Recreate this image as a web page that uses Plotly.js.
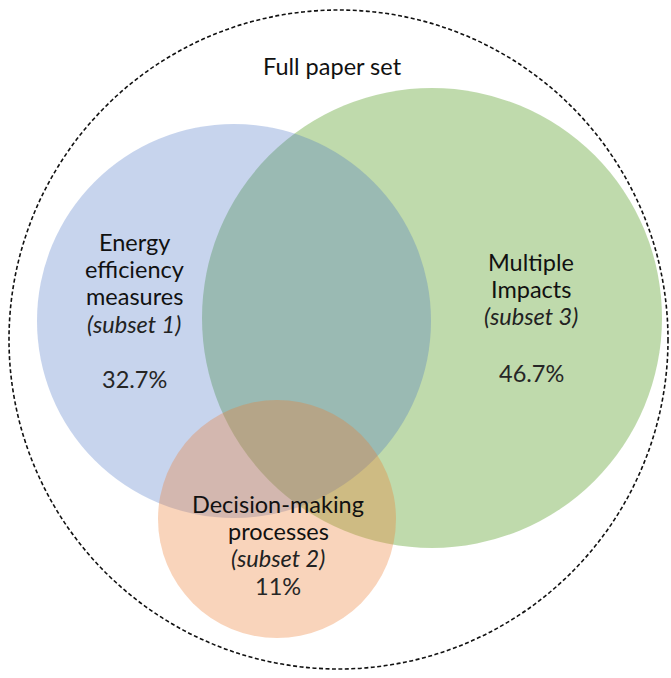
<!DOCTYPE html>
<html>
<head>
<meta charset="utf-8">
<script src="https://cdn.plot.ly/plotly-3.0.1.min.js"></script>
<style>html,body{margin:0;padding:0;background:#fff;}#chart{width:671px;height:678px;}</style>
</head>
<body>
<div id="chart"></div>
<script>
// ---- data ----
const universeLabel = "Full paper set";
const setTitles = [["Energy", "efficiency", "measures"], ["Decision-making", "processes"], ["Multiple", "Impacts"]];
const subsetLabels = ["(subset 1)", "(subset 2)", "(subset 3)"];
const shares = [32.7, 11, 46.7];

// ---- geometry (pixel-like data coordinates) ----
const circleCx = [234, 277, 432];
const circleCy = [321, 519, 318];
const circleR = [197, 119, 230];
const circleFill = ["rgba(68,114,196,0.30)", "rgba(237,125,49,0.33)", "rgba(112,173,71,0.45)"];
const drawOrder = [2, 0, 1];
const labelX = [134, 278, 531];
const labelTopY = [242, 503.5, 262];
const lineGap = 27.2;
const pctY = [379, 586, 373];
const outer = {cx: 338.5, cy: 339.5, r: 329.5};

const fontFam = "Lato, 'Open Sans', sans-serif";
const shapes = [];
drawOrder.forEach(i => {
  shapes.push({type: "circle", xref: "x", yref: "y",
    x0: circleCx[i] - circleR[i], x1: circleCx[i] + circleR[i],
    y0: circleCy[i] - circleR[i], y1: circleCy[i] + circleR[i],
    fillcolor: circleFill[i], line: {width: 0}, layer: "below"});
});
shapes.push({type: "circle", xref: "x", yref: "y",
  x0: outer.cx - outer.r, x1: outer.cx + outer.r, y0: outer.cy - outer.r, y1: outer.cy + outer.r,
  fillcolor: "rgba(0,0,0,0)", line: {color: "#111", width: 1.6, dash: "4px,2.5px"}});

const ann = [];
const mk = (x, y, text, color) => ({x: x, y: y, xref: "x", yref: "y", text: text, showarrow: false,
  xanchor: "center", yanchor: "middle", font: {family: fontFam, size: 23.5, color: color || "#111"}});
ann.push(mk(332, 66, universeLabel));
setTitles.forEach((lines, i) => {
  lines.forEach((t, k) => ann.push(mk(labelX[i], labelTopY[i] + k * lineGap, t)));
  ann.push(mk(labelX[i], labelTopY[i] + lines.length * lineGap, "<i>" + subsetLabels[i] + "</i>", "#222"));
  ann.push(mk(labelX[i], pctY[i], shares[i] + "%", "#262626"));
});

const layout = {
  width: 671, height: 678, margin: {l: 0, r: 0, t: 0, b: 0},
  paper_bgcolor: "#fff", plot_bgcolor: "#fff",
  xaxis: {range: [0, 671], visible: false, fixedrange: true},
  yaxis: {range: [678, 0], visible: false, fixedrange: true},
  shapes: shapes, annotations: ann, showlegend: false
};
Plotly.newPlot("chart", [], layout, {staticPlot: true, displayModeBar: false});
</script>
</body>
</html>
